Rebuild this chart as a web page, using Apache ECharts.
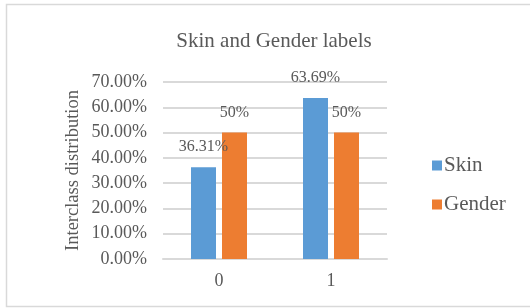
<!DOCTYPE html>
<html>
<head>
<meta charset="utf-8">
<script src="https://cdn.jsdelivr.net/npm/echarts@6/dist/echarts.min.js"></script>
<style>
  html, body { margin: 0; padding: 0; background: #fff; }
  #chart { width: 530px; height: 308px; }
</style>
</head>
<body>
<div id="chart"></div>
<script>
// 数据
var categories = ["0", "1"];
var skinValues = [36.31, 63.69];
var genderValues = [50, 50];
var yTicks = { min: 0, max: 70, interval: 10 };

var font = "'Liberation Serif', 'Times New Roman', serif";
var textColor = "#595959";

var chart = echarts.init(document.getElementById("chart"));

var option = {
  backgroundColor: "#fff",
  // 外框
  graphic: [
    {
      type: "rect",
      shape: { x: 6.5, y: 4.5, width: 530, height: 302 },
      style: { fill: "none", stroke: "#D9D9D9", lineWidth: 1.5 },
      silent: true
    }
  ],
  title: {
    text: "Skin and Gender labels",
    left: 269,
    textAlign: "center",
    top: 26,
    textStyle: { fontFamily: font, fontSize: 21, fontWeight: "normal", color: textColor }
  },
  legend: {
    orient: "vertical",
    left: 427,
    top: 150,
    itemWidth: 10,
    itemHeight: 10,
    itemGap: 18,
    icon: "rect",
    textStyle: { fontFamily: font, fontSize: 21, color: textColor, padding: [0, 0, 0, -3] },
    data: ["Skin", "Gender"]
  },
  grid: { left: 163, right: 143, top: 82, bottom: 49, containLabel: false },
  xAxis: {
    type: "category",
    data: categories,
    axisLine: { lineStyle: { color: "#D9D9D9", width: 2 } },
    axisTick: { show: false },
    axisLabel: { fontFamily: font, fontSize: 18, color: textColor, margin: 13 }
  },
  yAxis: {
    type: "value",
    min: yTicks.min,
    max: yTicks.max,
    interval: yTicks.interval,
    name: "Interclass distribution",
    nameLocation: "middle",
    nameGap: 80,
    nameTextStyle: { fontFamily: font, fontSize: 18.5, color: textColor },
    axisLine: { show: false },
    axisTick: { show: false },
    axisLabel: {
      fontFamily: font,
      fontSize: 18,
      color: textColor,
      margin: 16,
      formatter: function (v) { return v.toFixed(2) + "%"; }
    },
    splitLine: { lineStyle: { color: "#D9D9D9", width: 2 } }
  },
  series: [
    {
      name: "Skin",
      type: "bar",
      data: skinValues,
      barWidth: 25,
      barGap: "24%",
      itemStyle: { color: "#5B9BD5" },
      label: {
        show: true,
        position: "top",
        distance: 12,
        fontFamily: font,
        fontSize: 16,
        color: textColor,
        formatter: "{c}%"
      }
    },
    {
      name: "Gender",
      type: "bar",
      data: genderValues,
      barWidth: 25,
      itemStyle: { color: "#ED7D31" },
      label: {
        show: true,
        position: "top",
        distance: 12,
        fontFamily: font,
        fontSize: 16,
        color: textColor,
        formatter: "{c}%"
      }
    }
  ]
};

chart.setOption(option);
</script>
</body>
</html>
